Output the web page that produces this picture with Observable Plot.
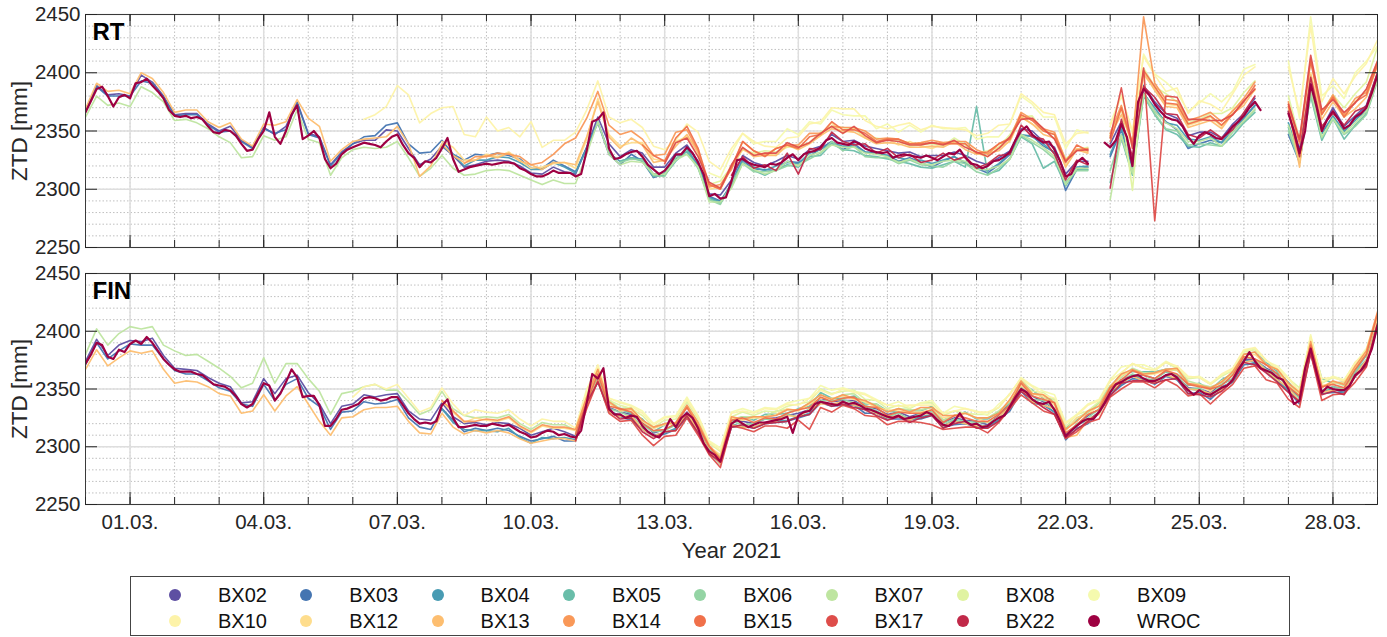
<!DOCTYPE html>
<html>
<head>
<meta charset="utf-8">
<script src="https://cdn.jsdelivr.net/npm/d3@7"></script>
<script src="https://cdn.jsdelivr.net/npm/@observablehq/plot@0.6"></script>
<style>
  body { margin: 0; background: #fff; font-family: "Liberation Sans", Arial, Helvetica, sans-serif; }
  #chart svg { display: block; }
  #legend { position: relative; margin: 12px 0 0 130px; width: 1160px; height: 60px;
            border: 1px solid #444; box-sizing: border-box; }
  #legend .dot { position: absolute; width: 12px; height: 12px; border-radius: 50%; }
  #legend .lab { position: absolute; transform: translateY(-50%); font-size: 20px; line-height: 1; color: #111; }
</style>
</head>
<body>
<div id="chart"></div>
<div id="legend"></div>
<script>
// GNSS stations (legend order); WROC is the reference station drawn on top
const stations = ["BX02","BX03","BX04","BX05","BX06","BX07","BX08","BX09",
                  "BX10","BX12","BX13","BX14","BX15","BX17","BX22","WROC"];

// Axis ticks
const dateTickDays = [1, 4, 7, 10, 13, 16, 19, 22, 25, 28];   // March 2021
const yTicks = [2250, 2300, 2350, 2400, 2450];

// WROC ZTD [mm], 3-hourly from 28.02.2021 00:00 UTC to 29.03.2021 00:00 (null = no solution)
const rtWROC = [
  2366,2376,2386,2388,2380,2371,2379,2381,
  2378,2391,2392,2395,2389,2384,2378,2368,
  2363,2362,2363,2361,2362,2360,2354,2349,
  2348,2351,2350,2346,2339,2333,2334,2343,
  2350,2366,2345,2339,2350,2364,2372,2343,
  2346,2350,2344,2326,2318,2322,2330,2334,
  2336,2338,2340,2339,2338,2336,2341,2345,
  2347,2338,2331,2327,2319,2324,2323,2327,
  2335,2344,2326,2315,2317,2319,2320,2321,
  2322,2321,2322,2323,2323,2322,2318,2316,
  2313,2311,2311,2313,2316,2314,2314,2314,
  2311,2313,2333,2358,2360,2366,2335,2326,
  2327,2330,2332,2333,2328,2321,2317,2313,
  2316,2322,2330,2330,2336,2331,2323,2313,
  2294,2296,2292,2293,2307,2325,2326,2323,
  2321,2320,2319,2322,2321,2323,2327,2330,
  2325,2330,2332,2333,2336,2342,2344,2340,
  2339,2338,2341,2339,2335,2333,2332,2331,
  2332,2327,2329,2330,2329,2328,2327,2329,
  2327,2325,2328,2331,2330,2334,2327,2322,
  2321,2318,2320,2324,2325,2328,2332,2342,
  2350,2354,2347,2343,2340,2341,2334,2324,
  2311,2313,2323,2327,2322,null,null,2340,
  2336,2342,2356,2345,2320,2375,2386,2381,
  2373,2367,2362,2360,2359,2354,2345,2339,
  2346,2349,2347,2344,2343,2348,2354,2358,
  2363,2370,2375,2368,null,null,null,null,
  2365,2350,2331,2350,2390,2372,2350,2360,
  2367,2360,2352,2355,2362,2365,2370,2383,
  2398
];
const finWROC = [
  2372,2380,2390,2388,2378,2376,2384,2382,
  2389,2392,2389,2395,2390,2383,2376,2371,
  2367,2365,2365,2365,2363,2362,2358,2354,
  2353,2352,2349,2344,2337,2334,2337,2346,
  2355,2353,2340,2346,2356,2367,2360,2343,
  2344,2344,2336,2318,2318,2324,2332,2333,
  2335,2337,2342,2343,2342,2340,2341,2343,
  2343,2336,2329,2324,2320,2321,2320,2322,
  2336,2341,2325,2317,2317,2318,2319,2318,
  2318,2320,2319,2318,2319,2316,2313,2311,
  2308,2309,2312,2314,2313,2310,2311,2309,
  2308,2314,2338,2363,2359,2368,2333,2328,
  2328,2325,2327,2326,2318,2313,2310,2308,
  2314,2324,2317,2325,2329,2325,2316,2303,
  2296,2293,2287,2304,2320,2323,2320,2317,
  2319,2321,2321,2322,2323,2324,2326,2312,
  2327,2330,2331,2337,2339,2338,2337,2336,
  2339,2337,2338,2336,2333,2332,2330,2328,
  2326,2325,2327,2324,2325,2326,2327,2330,
  2328,2323,2319,2318,2322,2329,2322,2319,
  2320,2317,2318,2322,2325,2327,2335,2343,
  2350,2347,2341,2338,2337,2339,2332,2322,
  2309,2314,2318,2322,2324,2324,2330,2338,
  2347,2354,2356,2359,2361,2362,2359,2357,
  2357,2359,2362,2363,2360,2354,2349,2345,
  2349,2346,2345,2348,2351,2353,2358,2367,
  2374,2382,2374,2368,2366,2364,2360,2358,
  2350,2337,2340,2368,2385,2366,2347,2352,
  2350,2349,2349,2353,2362,2366,2373,2385,
  2405
];

// Other stations: difference to WROC [mm], 6-hourly; first sample index (6 h steps from 28.02.)
const rtStart  = [0, 0, 32, 48, 48, 0, 56, 56, 25, 32, 0, 34, 50, 52, 58];
const finStart = [0, 0, 32, 44, 44, 0, 44, 44, 24, 32, 0, 32, 44, 44, 44];

// ---- RT (real-time) solution ----
const rtBX02 = [2,3,1,3, 2,6,3,2, 1,2,3,2, 2,4,3,2, 3,2,4,3, 2,1,3,2, 3,2,4,10, 3,4,2,3, 2,3,2,1, 2,3,1,2,
  1,2,3,1, 2,3,2,4, 1,2,3,2, 3,1,2,1, 2,3,1,3, 2,1,3,2, 1,2,1,3, 2,1,2,3, 1,2,3,1, 2,1,2,2,
  3,1,2,1, 2,3,1,2, 2,1,2,0, 3,2,4,3, 2,3,2,1, 3,2,1,2, 2,3,0,0, 2,3,1,2, 3,2,1,2, 2];
const rtBX03 = [1,2,0,1, 2,1,2,1, 0,1,2,1, 1,0,2,1, 2,3,1,2, 1,0,2,1, 3,5,8,14, 10,8,12,9, 7,4,8,10, 7,9,6,8,
  5,7,9,6, 4,3,-3,-5, -6,-2,-4,-7, -3,-1,-4,-2, 0,-2,-3,-1, -4,-2,-5,-3, -2,-4,-1,-3, -5,-2,-3,-1, -3,-5,-2,-4, -8,-4,-2,-5,
  -3,-6,-4,-2, -4,-1,-3,-2, -12,-6,-3,0, -8,-5,-2,-3, -6,-4,-8,-10, -7,-5,-3,-4, -2,-3,0,0, -18,-8,-4,-2, -5,-3,-1,-4, -2];
const rtBX04 = [2,4,3,5, 3,6,4,5, 4,6,7,5, 3,2,-2,-4, -3,-5,-2,-4, -2,-4,-1,-3, -1,-3,-2,0, -2,-3,-1,-4, -3,-1,-2,-4,
  -2,-4,-3,-1, -3,-2,-4,-2, -5,-3,-2,-4, -2,-4,-3,-1, -3,-2,-1,-3, -6,-4,-2,0, -6,-3,-2,-4, -3,-5,-4,-2, -4,-2,-3,-1,
  -2,-3,0,0, -8,-4,-3,-2, -4,-2,-3,-1, -2];
const rtBX05 = [-3,-5,-4,-6, -4,-6,-3,-5, -2,-4,-5,-3, -5,-7,-4,-6, -6,-4,-7,-5, -5,-8,-6,-4, -6,-5,-7,-8, -9,-7,-6,-8,
  50,-7,-9,-6, -5,-8,-22,-10, -8,-6,-5,0, -30,-12,-8,-6, -9,-11,-12,-8, -10,-7,-6,-8, -6,-9,0,0, -12,-6,-10,-8, -6,-9,-7,-5, -4];
const rtBX06 = [-4,-6,-3,-5, -5,-3,-6,-4, -3,-5,-2,-4, -6,-4,-5,-7, -4,-6,-5,-3, -6,-4,-7,-5, -5,-7,-4,-6, -7,-9,-6,-5,
  -6,-8,-7,-5, -4,-7,-6,-8, -5,-7,-6,0, -20,-9,-7,-5, -8,-10,-9,-7, -7,-9,-6,-5, -5,-7,0,0, -15,-8,-9,-6, -7,-5,-8,-6, -5];
const rtBX07 = [-4,-6,-8,-5, -7,-4,-6,-3, -4,-3,-5,-2, -3,-10,-12,-6, -4,-3,-5,-4, -3,-4,-6,-3, -2,-4,-3,-5, -6,-4,-8,-5,
  -6,-8,-5,-7, -6,-5,-7,-6, -5,-7,-8,-9, -6,-3,-2,-5, -6,-8,-5,-4, -3,-5,-6,-4, -5,-3,-6,-4, -4,-6,-5,-3, -5,-3,-4,-6,
  -3,-5,-4,-2, -4,-6,-3,-5, -6,-4,-5,-3, -4,-3,-5,-6, -3,-5,-4,-6, -7,-5,-4,0, -45,-10,-6,-4, -6,-5,-7,-4, -5,-3,-6,-4,
  -4,-6,0,0, -10,-6,-4,-5, -6,-4,-5,-3, -4];
const rtBX08 = [10,15,12,8, 10,14,11,9, 12,8,13,10, 14,11,9,12, 10,13,8,11, 12,9,14,11, 10,13,11,15, 12,16,10,13,
  15,11,14,0, 8,14,-21,18, 15,20,16,12, 14,18,22,16, 20,18,0,0, 15,12,20,16, 14,18,20,22, 24];
const rtBX09 = [20,18,24,22, 18,22,20,25, 22,26,20,24, 25,22,28,20, 24,20,26,22, 28,24,22,26, 22,25,20,24, 30,26,22,28,
  24,28,26,0, 20,25,28,30, 26,30,24,22, 28,35,32,30, 40,32,0,0, 45,30,58,30, 22,26,38,40, 25];
const rtBX10 = [20,26,30, 42,50,38,42, 35,45,30,25, 40,28,30,27, 45,25,26,28, 38,35,33,27, 30,28,25,20, 18,12,20,26,
  30,25,28,22, 20,18,15,17, 20,24,22,26, 30,28,24,22, 20,26,28,24, 27,25,22,24, 25,28,30,24, 32,28,26,30,
  28,25,27,0, 18,24,30,28, 25,22,28,20, 30,26,24,28, 35,30,0,0, 40,35,50,25, 28,30,35,38, 30];
const rtBX12 = [6,10,8,5, 8,6,9,7, 5,8,6,9, 7,10,18,12, 10,8,12,9, 8,11,9,12, 6,10,14,8, 9,12,8,10, 11,8,10,13,
  9,12,10,8, 11,9,12,10, 8,11,9,12, 10,8,11,9, 12,9,10,13, 9,12,10,0, 10,13,15,12, 14,11,13,10, 12,15,11,14,
  13,10,0,0, 8,-8,10,14, 12,10,13,15, 12];
const rtBX13 = [3,5,4,6, 4,8,6,5, 3,5,6,4, 5,7,4,3, 6,10,8,5, 15,10,6,4, 5,3,6,4, 7,8,-8,-3, 4,3,6,5, 7,5,8,6,
  8,6,7,9, 10,12,15,10, 8,12,10,6, 9,7,11,8, 10,8,12,9, 7,10,8,11, 9,7,10,8, 11,8,9,7, 8,10,7,9, 10,8,11,7,
  9,11,8,10, 12,9,7,10, 8,11,9,0, 10,8,20,14, 12,9,11,8, 10,12,9,11, 9,11,0,0, 5,-12,8,10, 8,10,7,9, 8];
const rtBX14 = [5,8, 6,9,7,10, 8,12,14,25, 33,28,24,20, 20,18,15,12, 14,19,15,10, 8,12,10,15, 12,10,14,11, 13,16,12,10,
  14,12,15,11, 12,14,10,13, 15,12,11,14, 13,10,14,12, 16,13,12,15, 14,11,13,0, 12,16,20,62, 18,15,17,14, 16,19,15,13,
  15,17,0,0, 10,8,22,15, 14,12,16,13, 10];
const rtBX15 = [10,12, 8,14,18,12, 10,8,12,15, 12,9,14,11, 10,13,11,14, 12,10,13,9, 11,14,10,12, 13,11,9,12, 10,12,14,11,
  14,12,10,13, 12,15,11,0, 5,14,18,16, 15,12,14,11, 13,16,12,10, 12,14,0,0, 6,10,20,14, 12,10,13,11, 9];
const rtBX17 = [6,10,8,5, 12,9,14,10, 8,12,10,13, 11,8,12,10, 9,13,11,8, 10,12,9,11, 13,10,12,9, 11,8,10,13,
  10,14,12,9, 13,10,12,0, 8,31,15,18, -100,18,20,15, 14,12,16,10, 13,11,0,0, 8,12,25,18, 10,14,12,16, 12];
const rtBX22 = [5,2, -3,2,-5,4, -12,3,-2,5, 2,-3,4,-1, 3,-2,1,-4, -2,3,-5,1, -3,2,4,-2, 5,-2,3,-4, -3,2,-1,0,
  -35,4,8,2, 6,3,5,2, -2,4,1,-3, 3,5,0,0, 2,-3,6,4, -2,3,5,1, 2];

// ---- FIN (final) solution ----
const finBX02 = [2,3,1,4, 3,2,4,3, 1,2,3,2, 2,3,1,2, 4,6,3,2, 3,1,2,3, 2,3,1,4, 3,2,4,3, 2,1,3,2, 1,2,1,3,
  2,1,3,2, 1,3,2,1, 2,1,3,2, 1,2,1,3, 2,1,3,2, 1,3,2,1, 2,1,3,2, 1,2,1,3, 2,3,1,2, 1,2,3,1,
  2,1,2,3, 1,3,2,1, 2,1,3,2, 1,2,1,3, 2,3,1,2, 1,2,3,1, 2,1,2,3, 1,3,2,1, 2,1,3,2, 3];
const finBX03 = [-1,0,-2,-1, 0,-1,-2,0, -1,-2,0,-1, -2,-1,0,-2, -1,0,-2,-1, -2,-1,-3,-2, -4,-3,-5,-3, -2,-4,-3,-5, -3,-2,-4,-3, -4,-3,-5,-4,
  -3,-5,-4,-6, -3,-2,-1,-3, -2,-4,-3,-1, -3,-2,-4,-3, -2,-1,-3,-2, -3,-1,-2,-4, -2,-3,-1,-2, -3,-2,-4,-1, -2,-3,-1,-3, -1,-2,-3,-2,
  -3,-1,-2,-4, -2,-3,-1,-2, -3,-2,-4,-1, -2,-3,-2,-1, -3,-1,-2,-3, -2,-4,-1,-2, -3,-2,-1,-3, -2,-3,-4,-1, -3,-2,-1,-2, -2];
const finBX04 = [-3,-4,-2,-5, -4,-6,-3,-5, -5,-4,-6,-3, -2,-1,-3,-2, -1,-3,-2,0, -2,-1,-3,-2, -1,-2,0,-3, -2,0,-1,-3,
  -1,-2,0,-1, 0,-2,-1,1, -1,0,-2,-1, 0,-1,1,-2, -1,0,-2,-1, 1,-1,0,-2, -1,1,-1,0, 0,-2,1,-1, -1,0,-2,1, 0,-1,1,-2,
  1,-1,0,-1, -2,0,-1,1, 0,-2,1,-1, 0];
const finBX05 = [2,4,3,5, 4,2,6,3, 5,3,6,4, 2,5,3,6, 4,7,5,3, 6,4,8,5, 3,6,4,7, 5,3,6,4, 7,4,5,8, 4,6,5,3,
  6,8,5,9, 7,5,6,8, 5,7,4,6, 8,5,7,4, 6,4,7,5, 9,11,7,5, 6,4,8,12, 5,7,4,6, 8];
const finBX06 = [1,-2,3,0, 2,-1,1,3, 0,2,-2,1, 3,0,2,-1, 1,3,0,2, -1,2,1,3, 2,0,3,1, 0,2,-1,2, 3,1,2,0, 1,3,0,2,
  2,0,3,1, 0,2,1,3, 3,1,2,0, 1,3,2,1, 2,0,3,1, 4,2,1,3, 0,2,4,1, 2,1,3,2, 1];
const finBX07 = [8,12,10,14, 15,13,14,12, 16,14,17,16, 15,12,14,18, 22,15,16,12, 15,12,10,14, 13,10,12,8, 6,10,8,12,
  12,8,10,6, 8,6,9,7, 7,9,6,8, 6,4,5,7, 5,7,4,6, 6,4,7,5, 3,5,4,6, 7,5,8,6, 5,7,6,4, 6,8,5,7, 4,6,7,5,
  6,4,5,7, 5,7,6,4, 7,5,8,6, 5,7,6,8, 6,4,7,5, 7,5,6,8, 5,7,4,6, 6,8,5,7, 4,6,8,5, 6,4,7,9, 8];
const finBX08 = [6,8,10,7, 8,6,9,7, 9,7,10,8, 7,9,6,10, 8,10,7,9, 10,8,11,9, 9,11,8,10, 7,9,8,11, 10,8,9,7,
  8,10,9,11, 9,7,10,8, 8,10,7,9, 10,8,11,9, 9,11,8,10, 11,9,10,8, 8,10,9,7, 9,11,10,8, 10,8,11,9, 8];
const finBX09 = [8,12,10,9, 11,9,13,10, 12,10,14,11, 9,12,10,13, 11,13,10,12, 13,11,14,12, 12,10,13,11, 10,12,9,11,
  12,10,13,11, 11,9,12,10, 10,12,11,13, 12,10,13,11, 11,13,10,12, 10,12,9,11, 12,10,11,9, 9,11,8,10,
  10,8,12,9, 11,9,10,12, 10];
const finBX10 = [8,10,12,9, 11,13,10,14, 15,12,10,13, 12,10,13,11, 10,12,9,11, 8,10,12,9, 10,8,11,9, 11,9,12,10,
  8,10,9,11, 10,12,9,11, 9,11,10,8, 11,9,12,10, 10,8,11,9, 8,10,9,11, 10,12,9,11, 9,11,8,10, 11,9,12,10,
  10,8,11,9, 9,11,10,12, 11,9,12,10, 10,12,9,8, 9,7,10,12, 10,8,11,9, 10];
const finBX12 = [3,5,4,6, 5,3,6,4, 4,6,3,5, 6,4,7,5, 3,5,4,6, 5,3,6,4, 4,6,5,3, 6,4,5,7, 4,6,3,5, 5,3,6,4,
  6,4,5,3, 4,6,5,7, 5,3,4,6, 3,5,6,4, 5,7,4,6, 4,6,5,3, 6,4,7,5, 5,3,6,4, 4,6,5,7, 3,5,4,6, 5,7,6,8, 6];
const finBX13 = [-5,-6,-8,-7, -6,-8,-7,-9, -12,-8,-7,-6, -7,-5,-8,-6, -10,-9,-12,-8, -7,-14,-8,-7, -9,-10,-8,-7, -8,-7,-8,-9,
  -7,-8,-6,-5, -6,-5,-7,-6, -5,-7,-6,-4, -3,-2,-1,-3, -2,0,-3,-1, -1,-3,0,-2, 0,-2,-1,-3, -2,0,-1,1,
  -1,1,-2,0, 0,-2,1,-1, -1,0,-2,1, 1,-1,0,-2, -2,0,1,-1, 0,-2,-1,1, -1,-8,0,-2, 1,-1,0,-2, -2,0,-1,1,
  0,1,-2,0, -1,1,0,-2, 1,-1,2,0, -1,1,0,2, 1];
const finBX14 = [4,6,5,3, 6,4,7,5, 5,7,4,6, 7,5,8,6, 4,6,5,7, 6,4,7,5, 5,3,6,4, 7,5,4,6, 5,7,6,4, 6,4,7,5,
  4,6,5,7, 6,8,5,7, 5,7,4,6, 7,5,8,6, 6,4,7,5, 5,7,6,4, 7,5,8,6, 4,6,5,7, 6,8,5,7, 5,7,6,4, 7,5,8,10, 12];
const finBX15 = [3,1,4,2, 5,3,2,4, 1,3,5,2, 4,2,3,5, 2,4,1,3, 5,3,4,2, 3,5,2,4, 1,3,4,2, 4,2,5,3, 2,4,3,1,
  5,3,4,6, 3,1,4,2, 4,2,5,3, 2,4,3,5, 3,5,2,4, 4,2,5,3, 2,4,3,5, 4,2,5,7, 10];
const finBX17 = [-3,-5,-2,-4, -6,-4,-8,-9, -5,-7,-4,-6, -3,-5,-2,-4, -6,-3,-5,-10, -4,-16,-5,-7, -3,-5,-6,-4, -7,-5,-3,-6,
  -9,-4,-6,-5, -3,-6,-4,-2, -5,-3,-6,-4, -2,-5,-3,-6, -4,-6,-5,-3, -6,-4,-7,-5, -3,-8,-5,-4, -6,-4,-8,-5,
  -9,-6,-4,-7, -5,-3,-6,-4, 2];
const finBX22 = [-2,0,-3,-1, -4,-2,-5,-3, -1,-3,-2,-4, -2,0,-3,-1, -3,-1,-2,-4, -1,-3,0,-2, -2,-4,-1,-3, -3,-1,-4,-2,
  -1,-3,-2,0, -4,-2,-3,-1, -2,0,-3,-4, -1,-3,-2,0, -3,-1,-4,-2, -2,-4,-1,-3, -4,-2,-3,-1, -1,-3,-2,-4,
  -3,-1,-4,-2, -2,-4,-1,-3, 0];

const rtDev  = [rtBX02, rtBX03, rtBX04, rtBX05, rtBX06, rtBX07, rtBX08, rtBX09,
                rtBX10, rtBX12, rtBX13, rtBX14, rtBX15, rtBX17, rtBX22];
const finDev = [finBX02, finBX03, finBX04, finBX05, finBX06, finBX07, finBX08, finBX09,
                finBX10, finBX12, finBX13, finBX14, finBX15, finBX17, finBX22];

// ---------------------------------------------------------------------------
const HOUR = 36e5;
const t0 = Date.UTC(2021, 1, 28);
const tEnd = Date.UTC(2021, 2, 29);
const palette = d3.quantize(d3.interpolateSpectral, stations.length).reverse();

function buildRows(wroc, starts, devs) {
  const rows = [];
  devs.forEach((dev, k) => {
    dev.forEach((dv, j) => {
      const i = starts[k] + j;               // 6-hour sample index
      const base = wroc[2 * i];
      if (base === undefined) return;
      rows.push({station: stations[k], time: new Date(t0 + i * 6 * HOUR),
                 ztd: base === null ? NaN : base + dv});
    });
  });
  wroc.forEach((v, i) => rows.push({station: "WROC", time: new Date(t0 + i * 3 * HOUR),
                                   ztd: v === null ? NaN : v}));
  return rows;
}

const dayTicks = d3.utcDay.range(new Date(t0), new Date(tEnd + 1));
const dateTicks = dateTickDays.map(d => new Date(Date.UTC(2021, 2, d)));
const yMinor = d3.range(2250, 2451, 10);

function panel({label, rows, height, marginTop, marginBottom, showDates}) {
  const width = 1387, marginLeft = 85, marginRight = 10;
  const plotW = width - marginLeft - marginRight;
  const plotH = height - marginTop - marginBottom;
  const major = 12, minor = 7;
  const ink = "#262626";
  return Plot.plot({
    width, height, marginLeft, marginRight, marginTop, marginBottom,
    style: {fontFamily: "'Liberation Sans', Arial, Helvetica, sans-serif", fontSize: "20px",
            color: ink, background: "#fff", overflow: "visible"},
    x: {type: "utc", domain: [new Date(t0), new Date(tEnd)], axis: null},
    y: {domain: [2250, 2450], axis: null},
    color: {domain: stations, range: palette},
    marks: [
      // minor (dotted) and major (solid) grid
      Plot.ruleX(dayTicks, {x: d => d, stroke: "#b9b9b9", strokeWidth: 0.9, strokeDasharray: "1.5,2"}),
      Plot.ruleY(yMinor, {y: d => d, stroke: "#b9b9b9", strokeWidth: 0.9, strokeDasharray: "1.5,2"}),
      Plot.ruleX(dateTicks, {x: d => d, stroke: "#dedede", strokeWidth: 1.5}),
      Plot.ruleY(yTicks, {y: d => d, stroke: "#dedede", strokeWidth: 1.5}),
      // station series
      Plot.line(rows.filter(d => d.station !== "WROC"),
        {x: "time", y: "ztd", z: "station", stroke: "station", strokeWidth: 1.6, strokeOpacity: 0.95, clip: true}),
      Plot.line(rows.filter(d => d.station === "WROC"),
        {x: "time", y: "ztd", stroke: "station", strokeWidth: 2.2, clip: true}),
      Plot.frame({stroke: "#3a3a3a", strokeWidth: 1}),
      // inward tick marks
      Plot.tickX(dayTicks, {x: d => d, insetTop: plotH - minor, stroke: ink}),
      Plot.tickX(dayTicks, {x: d => d, insetBottom: plotH - minor, stroke: ink}),
      Plot.tickX(dateTicks, {x: d => d, insetTop: plotH - major, stroke: ink}),
      Plot.tickX(dateTicks, {x: d => d, insetBottom: plotH - major, stroke: ink}),
      Plot.tickY(yTicks, {y: d => d, insetRight: plotW - major, stroke: ink}),
      Plot.tickY(yTicks, {y: d => d, insetLeft: plotW - major, stroke: ink}),
      Plot.axisY({ticks: yTicks, tickSize: 0, tickPadding: 5, tickFormat: "d", label: null, fontSize: 20.5}),
      showDates ? Plot.axisX({ticks: dateTicks, tickSize: 0, tickPadding: 10,
                              tickFormat: d3.utcFormat("%d.%m."), label: null, fontSize: 20.5}) : null,
      Plot.text([label], {frameAnchor: "top-left", dx: 7, dy: 8, lineAnchor: "top", textAnchor: "start",
                          fontSize: 24, fontWeight: "bold", fill: "#000"}),
      Plot.text(["ZTD [mm]"], {frameAnchor: "left", rotate: -90, dx: -66, textAnchor: "middle",
                               lineAnchor: "middle", fontSize: 22.5, fill: ink}),
      showDates ? Plot.text(["Year 2021"], {frameAnchor: "bottom", dy: 46, textAnchor: "middle",
                                            lineAnchor: "middle", fontSize: 22, fill: ink}) : null
    ]
  });
}

const chart = document.getElementById("chart");
chart.append(panel({label: "RT", rows: buildRows(rtWROC, rtStart, rtDev),
                    height: 256, marginTop: 14, marginBottom: 9, showDates: false}));
chart.append(panel({label: "FIN", rows: buildRows(finWROC, finStart, finDev),
                    height: 308, marginTop: 17, marginBottom: 60, showDates: true}));

// legend: 2 rows x 8 columns
const legend = d3.select("#legend");
stations.forEach((s, k) => {
  const col = k % 8, row = Math.floor(k / 8);
  const cy = 18 + row * 26;
  legend.append("span").attr("class", "dot")
    .style("left", `${44 + col * 131.3 - 6}px`).style("top", `${cy - 6}px`)
    .style("background", palette[k]);
  legend.append("span").attr("class", "lab")
    .style("left", `${87 + col * 131.3}px`).style("top", `${cy}px`).text(s);
});
</script>
</body>
</html>
